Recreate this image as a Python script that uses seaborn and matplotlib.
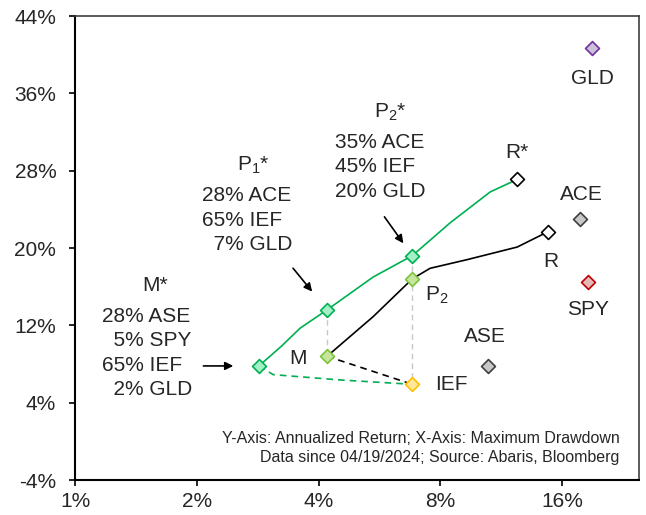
import matplotlib
matplotlib.use('Agg')
import matplotlib.pyplot as plt
from matplotlib.ticker import FixedLocator, NullLocator, FuncFormatter
import seaborn as sns

# single assets: max drawdown (%), annualized return (%)
asset_names = ['GLD', 'ACE', 'SPY', 'ASE', 'IEF']
asset_dd = [19.0, 17.75, 18.6, 10.5, 6.82]
asset_ret = [40.7, 23.0, 16.5, 7.8, 5.9]

# portfolios
port_names = ['M*', 'P1*', 'P2*', 'R*', 'M', 'P2', 'R']
port_dd = [2.85, 4.2, 6.82, 12.4, 4.2, 6.82, 14.8]
port_ret = [7.8, 13.6, 19.2, 27.1, 8.8, 16.8, 21.7]

# frontier curves
star_dd = [2.85, 3.25, 3.6, 4.2, 5.46, 6.82, 8.46, 10.63, 12.4]
star_ret = [7.8, 9.9, 11.7, 13.6, 17.0, 19.2, 22.6, 25.8, 27.1]
base_dd = [4.2, 5.46, 6.82, 7.55, 9.33, 12.4, 14.8]
base_ret = [8.8, 12.9, 16.8, 17.9, 18.8, 20.1, 21.7]
star_ief_dd = [2.85, 3.09, 4.52, 6.82]
star_ief_ret = [7.8, 6.9, 6.35, 5.9]

xticks = [1, 2, 4, 8, 16]
yticks = [-4, 4, 12, 20, 28, 36, 44]

colors = {
    'GLD': ('#ccc0da', '#7030a0'),
    'ACE': ('#c8c8c8', '#404040'),
    'ASE': ('#c8c8c8', '#404040'),
    'SPY': ('#e6b8b7', '#c00000'),
    'IEF': ('#ffe699', '#ffc000'),
    'R*': ('white', 'black'),
    'R': ('white', 'black'),
    'M*': ('#a3f0c6', '#00b050'),
    'P1*': ('#a3f0c6', '#00b050'),
    'P2*': ('#a3f0c6', '#00b050'),
    'M': ('#c6e59f', '#7cc43a'),
    'P2': ('#c6e59f', '#7cc43a'),
}

# label text and offset (points) from marker
labels = {
    'GLD': ('GLD', (0, -22)),
    'ACE': ('ACE', (1, 18)),
    'SPY': ('SPY', (0, -20)),
    'ASE': ('ASE', (-2, 21)),
    'IEF': ('IEF', (28, 0)),
    'R*': ('R*', (0, 19)),
    'R': ('R', (2, -21.5)),
    'M': ('M', (-21, -1.5)),
    'P2': ('P$_2$', (18, -12)),
}

sns.set_style('ticks')
plt.rcParams['font.family'] = ['Liberation Sans', 'DejaVu Sans']
plt.rcParams['mathtext.fontset'] = 'custom'
plt.rcParams['mathtext.rm'] = 'Liberation Sans'
plt.rcParams['mathtext.it'] = 'Liberation Sans:italic'

fig = plt.figure(figsize=(6.46, 5.15), dpi=100)
ax = fig.add_axes([75 / 646, 1 - 480 / 515, 564 / 646, 464 / 515])
ax.set_xscale('log', base=2)

pts = dict(zip(asset_names, zip(asset_dd, asset_ret)))
pts.update(dict(zip(port_names, zip(port_dd, port_ret))))

# grey drop lines
for top, bot in [('P1*', 'M'), ('P2*', 'IEF')]:
    sns.lineplot(x=[pts[top][0], pts[bot][0]], y=[pts[top][1], pts[bot][1]],
                 color='#c8c8c8', lw=1, linestyle=(0, (4, 3)), ax=ax,
                 sort=False, estimator=None)

sns.lineplot(x=star_dd, y=star_ret, color='#00b050', lw=1.2, ax=ax,
             sort=False, estimator=None)
sns.lineplot(x=base_dd, y=base_ret, color='black', lw=1.2, ax=ax,
             sort=False, estimator=None)
sns.lineplot(x=star_ief_dd, y=star_ief_ret, color='#00b050', lw=1.2,
             linestyle=(0, (4, 3)), ax=ax, sort=False, estimator=None)
sns.lineplot(x=[pts['M'][0], pts['IEF'][0]], y=[pts['M'][1], pts['IEF'][1]],
             color='black', lw=1.2, linestyle=(0, (4, 3)), ax=ax,
             sort=False, estimator=None)

for name, (x, y) in pts.items():
    face, edge = colors[name]
    sns.scatterplot(x=[x], y=[y], marker='D', s=50, color=face,
                    edgecolor=edge, linewidth=1.2, ax=ax, zorder=5)
    if name in labels:
        txt, off = labels[name]
        ax.annotate(txt, xy=(x, y), xytext=off, textcoords='offset points',
                    ha='center', va='center', fontsize=15)

# weight blocks
ax.text(0.142, 0.420, 'M*', transform=ax.transAxes, ha='center', va='center', fontsize=15)
ax.text(0.048, 0.2737, '28% ASE\n  5% SPY\n65% IEF\n  2% GLD', transform=ax.transAxes,
        ha='left', va='center', fontsize=15, linespacing=1.36)
ax.text(0.3156, 0.679, 'P$_1$*', transform=ax.transAxes, ha='center', va='center', fontsize=15)
ax.text(0.2252, 0.560, '28% ACE\n65% IEF\n  7% GLD', transform=ax.transAxes,
        ha='left', va='center', fontsize=15, linespacing=1.36)
ax.text(0.5585, 0.793, 'P$_2$*', transform=ax.transAxes, ha='center', va='center', fontsize=15)
ax.text(0.461, 0.6746, '35% ACE\n45% IEF\n20% GLD', transform=ax.transAxes,
        ha='left', va='center', fontsize=15, linespacing=1.36)

arrow = dict(arrowstyle='-|>', color='black', lw=1.2, mutation_scale=12, shrinkA=0)
ax.annotate('', xy=pts['M*'], xytext=(-40, 0), textcoords='offset points',
            arrowprops=dict(arrow, shrinkB=18.5))
ax.annotate('', xy=pts['P1*'], xytext=(-24.5, 30), textcoords='offset points',
            arrowprops=dict(arrow, shrinkB=17))
ax.annotate('', xy=pts['P2*'], xytext=(-20, 28), textcoords='offset points',
            arrowprops=dict(arrow, shrinkB=11))

ax.text(0.966, 0.069, 'Y-Axis: Annualized Return; X-Axis: Maximum Drawdown\n'
        'Data since 04/19/2024; Source: Abaris, Bloomberg',
        transform=ax.transAxes, ha='right', va='center', multialignment='right',
        fontsize=11.5, linespacing=1.3)

ax.set_xlim(1, 24.8)
ax.set_ylim(-4, 44)
ax.xaxis.set_major_locator(FixedLocator(xticks))
ax.xaxis.set_minor_locator(NullLocator())
ax.xaxis.set_major_formatter(FuncFormatter(lambda v, p: f'{v:g}%'))
ax.yaxis.set_major_locator(FixedLocator(yticks))
ax.yaxis.set_major_formatter(FuncFormatter(lambda v, p: f'{v:g}%'))
ax.tick_params(axis='both', direction='out', length=4.5, width=1.2,
               labelsize=15, color='black')
ax.tick_params(axis='y', pad=9)
ax.tick_params(axis='x', pad=4)
ax.set_xlabel('')
ax.set_ylabel('')
for side in ['left', 'bottom']:
    ax.spines[side].set_linewidth(1.5)
    ax.spines[side].set_color('black')
for side in ['top', 'right']:
    ax.spines[side].set_visible(True)
    ax.spines[side].set_linewidth(1.2)
    ax.spines[side].set_color('#404040')

fig.savefig('out.png', dpi=100, facecolor='white')
